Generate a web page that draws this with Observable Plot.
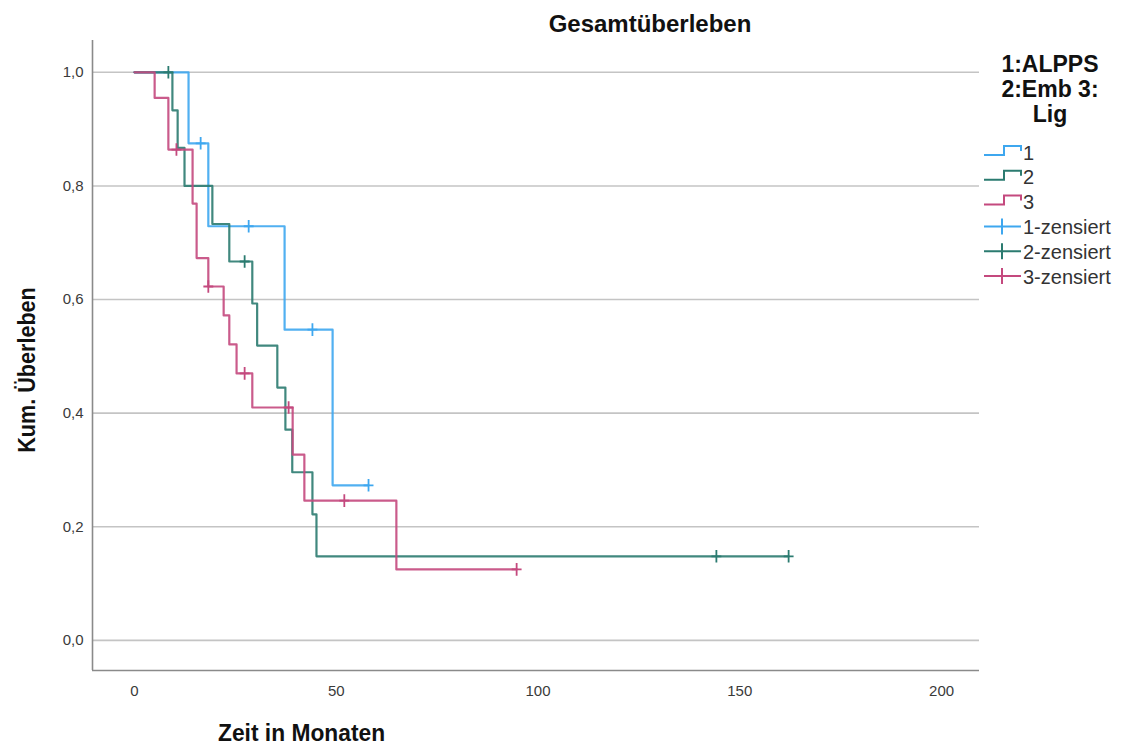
<!DOCTYPE html>
<html><head><meta charset="utf-8">
<script src="https://cdn.jsdelivr.net/npm/d3@7"></script>
<script src="https://cdn.jsdelivr.net/npm/@observablehq/plot@0.6"></script>
<style>
body{margin:0;background:#fff;font-family:"Liberation Sans",Arial,sans-serif;}
#wrap{position:relative;width:1125px;height:747px;overflow:hidden;background:#fff}
#chart,#over{position:absolute;left:0;top:0}
</style></head><body><div id="wrap"><div id="chart"></div><svg id="over" width="1125" height="747"></svg></div>
<script>
// ---- data ----
const groups = ["1", "2", "3"];
const groupColors = ["#3ea7ef", "#2b7b70", "#c4497e"];
const legendTitle = ["1:ALPPS", "2:Emb 3:", "Lig"];

// group 1 (ALPPS): step times and survival
const time1 = [0, 13.4, 18.3, 37.2, 49.1, 58.0];
const surv1 = [1.0, 0.875, 0.729, 0.547, 0.273, 0.273];
const censT1 = [16.4, 28.3, 44.1, 58.0];
const censS1 = [0.875, 0.729, 0.547, 0.273];

// group 2 (Emb)
const time2 = [0, 9.4, 10.7, 12.4, 19.3, 23.5, 29.2, 30.4, 35.4, 37.4, 39.1, 44.1, 45.1, 162.1];
const surv2 = [1.0, 0.933, 0.867, 0.800, 0.733, 0.667, 0.593, 0.519, 0.445, 0.371, 0.296, 0.222, 0.148, 0.148];
const censT2 = [8.4, 27.3, 144.2, 162.1];
const censS2 = [1.0, 0.667, 0.148, 0.148];

// group 3 (Lig)
const time3 = [0, 5.0, 8.4, 14.4, 15.4, 18.3, 22.1, 23.5, 25.3, 29.2, 39.2, 42.1, 64.9, 94.7];
const surv3 = [1.0, 0.955, 0.864, 0.769, 0.673, 0.623, 0.572, 0.521, 0.470, 0.410, 0.327, 0.246, 0.125, 0.125];
const censT3 = [10.4, 18.3, 27.3, 38.2, 52.0, 94.7];
const censS3 = [0.864, 0.623, 0.470, 0.410, 0.246, 0.125];

const xTicks = [0, 50, 100, 150, 200];
const yTicks = [0, 0.2, 0.4, 0.6, 0.8, 1.0];
const xDomain = [-10.4, 209.4];
const yDomain = [-0.053, 1.056];

// ---- tables ----
const steps = [], cens = [];
[[time1, surv1, censT1, censS1], [time2, surv2, censT2, censS2], [time3, surv3, censT3, censS3]]
  .forEach(([t, s, ct, cs], i) => {
    t.forEach((v, j) => steps.push({g: groups[i], t: v, s: s[j]}));
    ct.forEach((v, j) => cens.push({g: groups[i], t: v, s: cs[j]}));
  });

const plusSymbol = {
  draw(ctx, size) {
    const r = Math.sqrt(size / Math.PI);
    ctx.moveTo(0, -r * 1.4); ctx.lineTo(0, r * 1.4);
    ctx.moveTo(-r * 1.1, 0); ctx.lineTo(r * 1.1, 0);
  }
};

const fmt = d => d.toFixed(1).replace(".", ",");

const chart = Plot.plot({
  width: 1125, height: 747,
  marginLeft: 92, marginRight: 146, marginTop: 40, marginBottom: 77,
  style: {fontFamily: "'Liberation Sans', Arial, sans-serif", background: "white"},
  x: {domain: xDomain},
  y: {domain: yDomain},
  color: {domain: groups, range: groupColors},
  marks: [
    Plot.gridY(yTicks, {stroke: "#c4c4c4", strokeOpacity: 1, strokeWidth: 1.6}),
    Plot.axisY(yTicks, {tickSize: 0, tickPadding: 9, tickFormat: fmt, label: null, fontSize: 15, fill: "#3a3a3a"}),
    Plot.axisX(xTicks, {tickSize: 0, tickPadding: 15, label: null, fontSize: 15, fill: "#3a3a3a"}),
    Plot.ruleX([xDomain[0]], {stroke: "#8a8a8a", strokeWidth: 1.6}),
    Plot.ruleY([yDomain[0]], {stroke: "#8a8a8a", strokeWidth: 1.6}),
    Plot.line(steps, {x: "t", y: "s", z: "g", stroke: "g", curve: "step-after", strokeWidth: 2.2, strokeOpacity: 0.9}),
    Plot.dot(cens, {x: "t", y: "s", stroke: "g", symbol: plusSymbol, r: 4.5, fill: "none", strokeWidth: 1.8})
  ]
});
document.getElementById("chart").appendChild(chart);

// ---- titles and legend ----
const over = d3.select("#over");
const F = "'Liberation Sans', Arial, sans-serif";
over.append("text").attr("x", 650).attr("y", 32).attr("text-anchor", "middle")
  .attr("font-family", F).attr("font-weight", "bold").attr("font-size", 24).attr("fill", "#111")
  .text("Gesamtüberleben");

over.append("text").attr("transform", "translate(35,370) rotate(-90) scale(0.9,1)").attr("text-anchor", "middle")
  .attr("font-family", F).attr("font-weight", "bold").attr("font-size", 24).attr("fill", "#111")
  .text("Kum. Überleben");

over.append("text").attr("transform", "translate(218,741) scale(0.95,1)")
  .attr("font-family", F).attr("font-weight", "bold").attr("font-size", 24).attr("fill", "#111")
  .text("Zeit in Monaten");

legendTitle.forEach((s, i) => {
  over.append("text").attr("x", 1050).attr("y", 72 + i * 25).attr("text-anchor", "middle")
    .attr("font-family", F).attr("font-weight", "bold").attr("font-size", 23).attr("fill", "#111")
    .text(s);
});

const rows = [];
groups.forEach((g, i) => rows.push({label: g, color: groupColors[i], kind: "step"}));
groups.forEach((g, i) => rows.push({label: g + "-zensiert", color: groupColors[i], kind: "cens"}));
rows.forEach((r, i) => {
  const cy = 152 + i * 24.8;
  const p = over.append("path").attr("fill", "none").attr("stroke", r.color).attr("stroke-width", 2);
  if (r.kind === "step") p.attr("d", `M984,${cy + 3}H1004V${cy - 6}H1021V${cy - 1}`);
  else p.attr("d", `M984,${cy}H1021M1002,${cy - 8}V${cy + 8}`);
  over.append("text").attr("x", 1023).attr("y", cy + 7.5)
    .attr("font-family", F).attr("font-size", 20).attr("fill", "#333").text(r.label);
});
</script></body></html>
